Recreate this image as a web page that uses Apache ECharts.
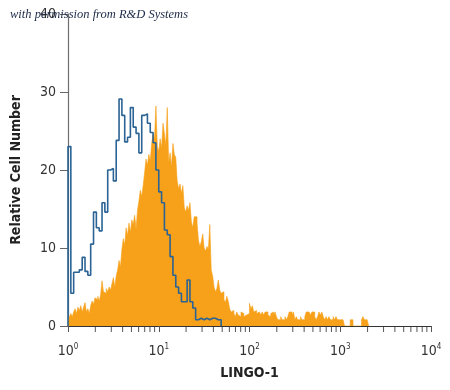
<!DOCTYPE html>
<html>
<head>
<meta charset="utf-8">
<script src="https://cdn.jsdelivr.net/npm/echarts@6/dist/echarts.min.js"></script>
<style>html,body{margin:0;padding:0;background:#fff}#c{width:450px;height:390px}</style>
</head>
<body>
<div id="c"></div>
<script>
// Channel widths in log10 units
var ORANGE_BIN = 4 / 256;
var BLUE_BIN = 4 / 128;

// LINGO-1 stained cells (filled orange histogram), one value per channel
var lingoCounts = [
  0.8,1.2,1.6,1.2,1.8, 2.2,1.6,2.4,2.0,2.6,
  1.8,2.4,3.0,1.8,2.2,1.6,2.6, 3.2,2.8,3.6,
  3.4,3.8,3.2,4.0,5.8,4.4, 4.2,4.8,4.4,5.0,4.6,
  5.4,6.2,5.0,6.4, 7.2,8.4,7.6, 9.8,11.2,10.4,12.6,
  11.6,13.2,12.0,13.6, 13.0,14.2,12.4,14.8,
  16.0,17.4,16.6,18.0, 19.6,21.4,20.6,22.0,21.2,
  23.4,24.6,24.0, 28.2, 23.0,22.4,24.0,22.8, 26.0,24.6, 23.2, 28.0,
  21.0,22.2,20.4, 23.4,22.0, 21.6, 18.6,17.6,18.2,17.0,
  18.0,15.2,14.6,15.4,14.8, 15.8, 13.4,12.6,14.0, 14.0,13.2,
  11.0,10.2,10.8, 11.8, 10.0,9.6,10.2,9.8, 13.0, 7.2,6.4,
  5.0,4.4,4.8, 5.9, 4.6,4.2,4.4, 3.4,3.0, 3.8,3.2, 2.2,1.8,2.0,
  1.6,1.2,1.8,1.4,1.2,1.8,1.6,1.2,1.4, 1.2,1.6, 2.9,2.2,2.6,
  1.8,2.0,1.6,1.8,1.8,1.4,
  1.8,1.4,1.8,1.8,1.4,1.2,1.6,1.8,1.4,1.8,1.2,
  0.8,0.8,1.2,0.8,0.8,1.2,0.8, 1.2, 1.8,1.8,1.4,1.8,
  0.8,1.2,0.8,0.8,1.2,0.8,0.8, 1.2, 1.8,1.8,1.8,1.4,1.8,1.8,
  1.2,0.8,1.2, 1.8,1.4,1.8,
  1.2,0.8,1.2,0.8,1.2,0.8,0.8,1.2,0.8,1.2,
  0.8,0.8,0.8,0.8,0.8, 0,0,0,0, 0.8,0.8, 0,0,0,0,0,0,
  0.8,1.2,0.8,0.8,0.8
];

// Isotype control (blue outline histogram), one value per channel
var controlCounts = [
  23.0, 4.2, 6.9, 6.9, 7.2, 8.8, 7.0, 6.5, 10.5, 14.6,
  12.6, 12.2, 15.8, 14.6, 20.0, 20.2, 18.6, 23.8, 29.1, 27.0,
  23.6, 24.2, 28.0, 25.5, 24.7, 22.2, 27.0, 27.2, 26.0, 24.8,
  23.5, 20.0, 17.2, 15.8, 12.3, 11.7, 8.9, 6.5, 5.0, 4.2,
  3.1, 3.1, 5.9, 3.1, 2.3, 0.8, 1.0, 0.8, 1.0, 0.8,
  1.0, 1.0, 0.8, 0.8
];

var decades = [0, 1, 2, 3, 4];
var minorMultipliers = [2, 3, 4, 5, 6, 7, 8, 9];

function stepData(counts, w) {
  var d = [[0, 0]];
  for (var i = 0; i < counts.length; i++) d.push([i * w, counts[i]]);
  d.push([counts.length * w, counts[counts.length - 1]]);
  d.push([counts.length * w, 0]);
  return d;
}

var minorTicks = [];
decades.slice(0, 4).forEach(function (dd) {
  minorMultipliers.forEach(function (m) { minorTicks.push([dd + Math.log10(m), 0]); });
});

var FONT = '"Liberation Sans Narrow", "DejaVu Sans Condensed", "Roboto Condensed", "Liberation Sans", sans-serif';
var chart = echarts.init(document.getElementById('c'), null, {renderer: 'canvas'});
chart.setOption({
  animation: false,
  backgroundColor: '#fff',
  grid: {left: 68, right: 19, top: 14, bottom: 64},
  xAxis: {
    type: 'value', min: 0, max: 4, interval: 1,
    name: 'LINGO-1', nameLocation: 'middle', nameGap: 40,
    nameTextStyle: {fontFamily: FONT, fontSize: 14, fontWeight: 'bold', color: '#222'},
    axisLine: {show: true, lineStyle: {color: '#333', width: 1.2}},
    axisTick: {show: true, length: 6, lineStyle: {color: '#555'}},
    splitLine: {show: false},
    axisLabel: {
      margin: 17,
      formatter: function (v) { return '{b|10}{s|' + v + '}'; },
      rich: {
        b: {fontFamily: FONT, fontSize: 14, color: '#333', lineHeight: 16},
        s: {fontFamily: FONT, fontSize: 8, color: '#333', verticalAlign: 'top', lineHeight: 16, padding: [0, 0, 6, 0]}
      }
    }
  },
  yAxis: {
    type: 'value', min: 0, max: 40, interval: 10,
    name: 'Relative Cell Number', nameLocation: 'middle', nameGap: 45, nameRotate: 90,
    nameTextStyle: {fontFamily: FONT, fontSize: 14, fontWeight: 'bold', color: '#222'},
    axisLine: {show: true, lineStyle: {color: '#6e6e6e', width: 1.2}},
    axisTick: {show: true, length: 8, lineStyle: {color: '#666'}},
    splitLine: {show: false},
    axisLabel: {margin: 12, fontFamily: FONT, fontSize: 14, color: '#333'}
  },
  series: [
    {
      type: 'line', step: 'end', data: stepData(lingoCounts, ORANGE_BIN),
      showSymbol: false, symbol: 'none',
      lineStyle: {width: 0.6, color: '#F7A11A'},
      areaStyle: {color: '#F7A11A', opacity: 1},
      z: 2
    },
    {
      type: 'line', step: 'end', data: stepData(controlCounts, BLUE_BIN),
      showSymbol: false, symbol: 'none',
      lineStyle: {width: 1.6, color: '#2a6394'},
      z: 3
    },
    {
      type: 'custom', data: minorTicks, clip: false, silent: true, z: 4,
      renderItem: function (params, api) {
        var p = api.coord([api.value(0), 0]);
        return {type: 'line', shape: {x1: p[0], y1: p[1] + 1, x2: p[0], y2: p[1] + 6},
                style: {stroke: '#555', lineWidth: 1}};
      }
    }
  ],
  graphic: [{
    type: 'text', left: 10, top: 8, z: 100,
    style: {text: 'with permission from R&D Systems', font: 'italic 12.5px "Liberation Serif", "DejaVu Serif", serif', fill: '#1c2a48'}
  }]
});
</script>
</body>
</html>
